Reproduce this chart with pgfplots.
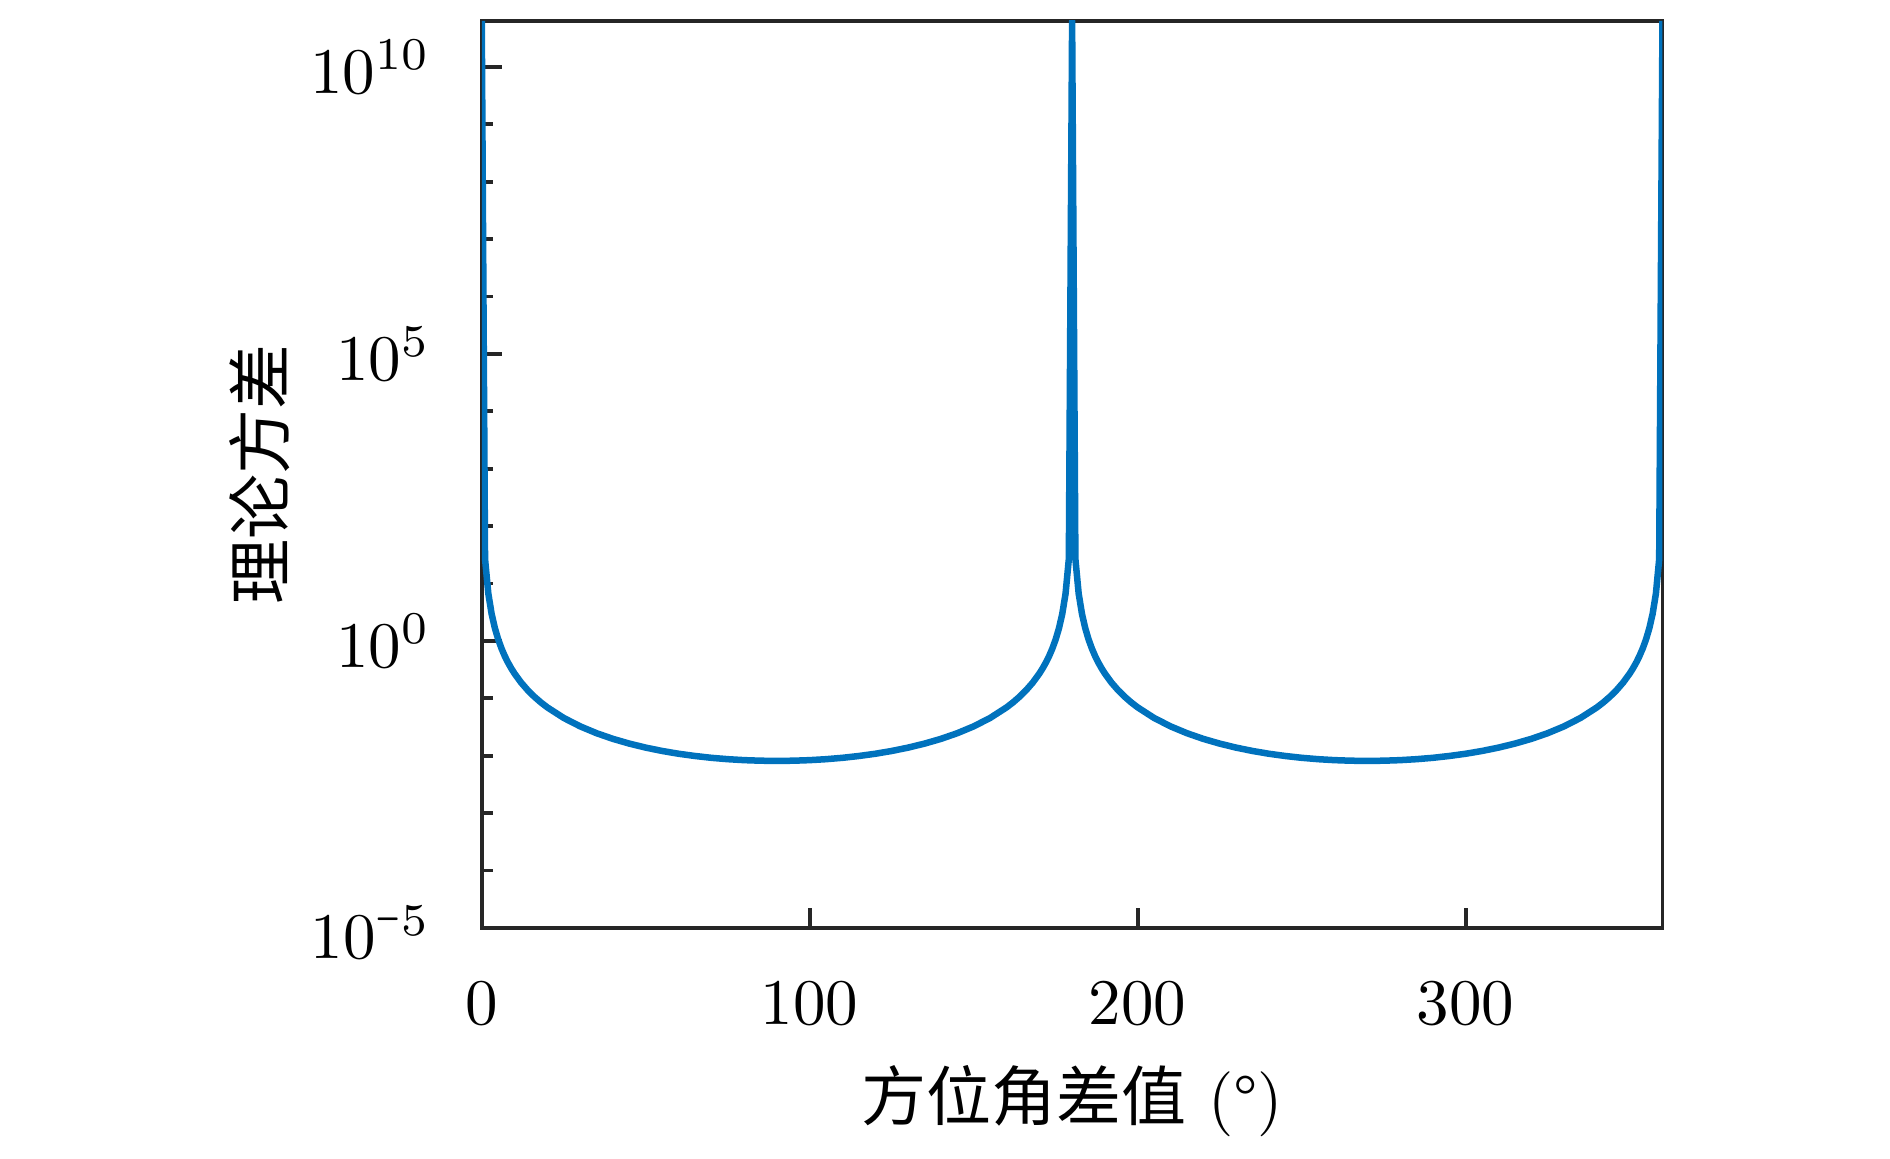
\documentclass[border=0pt]{standalone}
\usepackage{fontspec}
\newfontfamily\cjk{Noto Sans CJK SC}
\usepackage{graphicx}
\usepackage{pgfplots}
\pgfplotsset{compat=1.18}
\definecolor{mblue}{rgb}{0,0.447,0.741}
\definecolor{axgray}{rgb}{0.15,0.15,0.15}

\pgfplotstableread{
x y
0 6.31e10
1 26.69
2 6.674
3 2.968
4 1.670
5 1.070
6 0.7437
7 0.5472
8 0.4197
9 0.3322
10 0.2696
12 0.1880
14 0.1389
16 0.1070
18 0.08511
20 0.06948
25 0.04550
30 0.03251
35 0.02470
40 0.01967
45 0.01626
50 0.01385
55 0.01211
60 0.01083
65 0.00990
70 0.00920
75 0.00871
80 0.00838
85 0.00819
90 0.00813
95 0.00819
100 0.00838
105 0.00871
110 0.00920
115 0.00990
120 0.01083
125 0.01211
130 0.01385
135 0.01626
140 0.01967
145 0.02470
150 0.03251
155 0.04550
160 0.06948
162 0.08511
164 0.1070
166 0.1389
168 0.1880
170 0.2696
171 0.3322
172 0.4197
173 0.5472
174 0.7437
175 1.070
176 1.670
177 2.968
178 6.674
179 26.69
180 6.31e10
181 26.69
182 6.674
183 2.968
184 1.670
185 1.070
186 0.7437
187 0.5472
188 0.4197
189 0.3322
190 0.2696
192 0.1880
194 0.1389
196 0.1070
198 0.08511
200 0.06948
205 0.04550
210 0.03251
215 0.02470
220 0.01967
225 0.01626
230 0.01385
235 0.01211
240 0.01083
245 0.00990
250 0.00920
255 0.00871
260 0.00838
265 0.00819
270 0.00813
275 0.00819
280 0.00838
285 0.00871
290 0.00920
295 0.00990
300 0.01083
305 0.01211
310 0.01385
315 0.01626
320 0.01967
325 0.02470
330 0.03251
335 0.04550
340 0.06948
342 0.08511
344 0.1070
346 0.1389
348 0.1880
350 0.2696
351 0.3322
352 0.4197
353 0.5472
354 0.7437
355 1.070
356 1.670
357 2.968
358 6.674
359 26.69
360 6.31e10
}\datatable

\begin{document}
\begin{tikzpicture}
\begin{axis}[
  name=ax,
  scale only axis,
  width=181.6pt, height=139.5pt,
  ymode=log,
  xmin=0, xmax=360,
  ymin=1e-5, ymax=6.31e10,
  xtick={0,100,200,300},
  ytick={1e-5,1,1e5,1e10},
  yticklabels={$10^{\scalebox{0.5}[1]{$-$}5}$,$10^{0}$,$10^{5}$,$10^{10}$},
  minor ytick={1e-4,1e-3,1e-2,1e-1,1e1,1e2,1e3,1e4,1e6,1e7,1e8,1e9},
  tick pos=left,
  tick align=inside,
  major tick length=3.1pt,
  minor tick length=1.7pt,
  axis line style={axgray, line width=0.6pt},
  tick style={axgray, line width=0.6pt},
  xticklabel style={yshift=-4.8pt},
  yticklabel style={xshift=-4.4pt},
  every axis x label/.style={at={(axis description cs:0.5,-0.1907)}, anchor=center},
  every axis y label/.style={at={(axis description cs:-0.1878,0.5)}, rotate=90, anchor=center},
  xlabel={{\cjk 方位角差值} (°)},
  ylabel={{\cjk 理论方差}},
]
\addplot[mblue, line width=1pt, line join=round] table[x=x,y=y] {\datatable};
\end{axis}
\path ([shift={(-74.1pt,-33.6pt)}]ax.south west) rectangle ([shift={(35pt,3.23pt)}]ax.north east);
\end{tikzpicture}
\end{document}
